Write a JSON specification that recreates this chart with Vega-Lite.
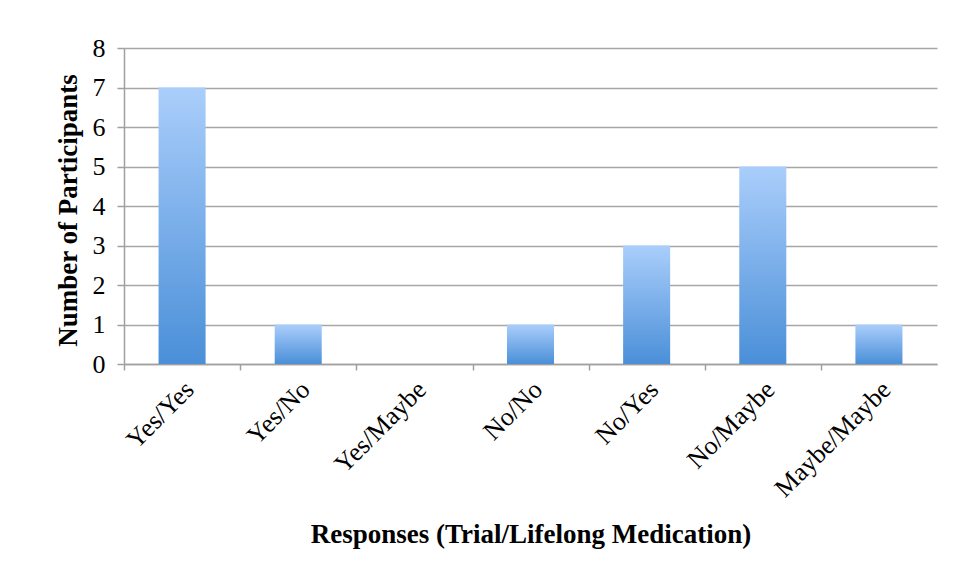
{
  "$schema": "https://vega.github.io/schema/vega-lite/v6.json",
  "width": 813,
  "height": 316,
  "autosize": {"type": "none"},
  "padding": {"left": 124, "top": 48, "right": 23, "bottom": 221},
  "background": "white",
  "data": {
    "values": [
      {"response": "Yes/Yes", "count": 7},
      {"response": "Yes/No", "count": 1},
      {"response": "Yes/Maybe", "count": 0},
      {"response": "No/No", "count": 1},
      {"response": "No/Yes", "count": 3},
      {"response": "No/Maybe", "count": 5},
      {"response": "Maybe/Maybe", "count": 1}
    ]
  },
  "mark": {
    "type": "bar",
    "color": {
      "gradient": "linear",
      "x1": 0, "y1": 0, "x2": 0, "y2": 1,
      "stops": [
        {"offset": 0, "color": "#aacefb"},
        {"offset": 1, "color": "#4a8fd8"}
      ]
    }
  },
  "encoding": {
    "x": {
      "field": "response",
      "type": "nominal",
      "sort": null,
      "scale": {"paddingInner": 0.595, "paddingOuter": 0.2975},
      "axis": {
        "title": "Responses (Trial/Lifelong Medication)",
        "titleFont": "Liberation Serif",
        "titleFontSize": 27,
        "titleFontWeight": "bold",
        "titleColor": "black",
        "titleBaseline": "alphabetic",
        "titleY": 178,
        "labelFont": "Liberation Serif",
        "labelFontSize": 26,
        "labelColor": "black",
        "labelAngle": -45,
        "labelPadding": 6,
        "tickOffset": -58,
        "labelOffset": 56,
        "tickSize": 6,
        "tickColor": "#a0a0a0",
        "tickWidth": 1.5,
        "domainColor": "#a0a0a0",
        "domainWidth": 1.5,
        "grid": false
      }
    },
    "y": {
      "field": "count",
      "type": "quantitative",
      "scale": {"domain": [0, 8]},
      "axis": {
        "title": "Number of Participants",
        "titleFont": "Liberation Serif",
        "titleFontSize": 27,
        "titleFontWeight": "bold",
        "titleColor": "black",
        "titleBaseline": "middle",
        "titleX": -56,
        "titleY": 162,
        "titleAngle": -90,
        "values": [0, 1, 2, 3, 4, 5, 6, 7, 8],
        "labelFont": "Liberation Serif",
        "labelFontSize": 26,
        "labelColor": "black",
        "labelPadding": 12,
        "tickSize": 7,
        "tickColor": "#a0a0a0",
        "tickWidth": 1.5,
        "domainColor": "#a0a0a0",
        "domainWidth": 1.5,
        "gridColor": "#a6a6a6",
        "gridWidth": 1.5
      }
    }
  },
  "config": {"view": {"stroke": null}}
}
